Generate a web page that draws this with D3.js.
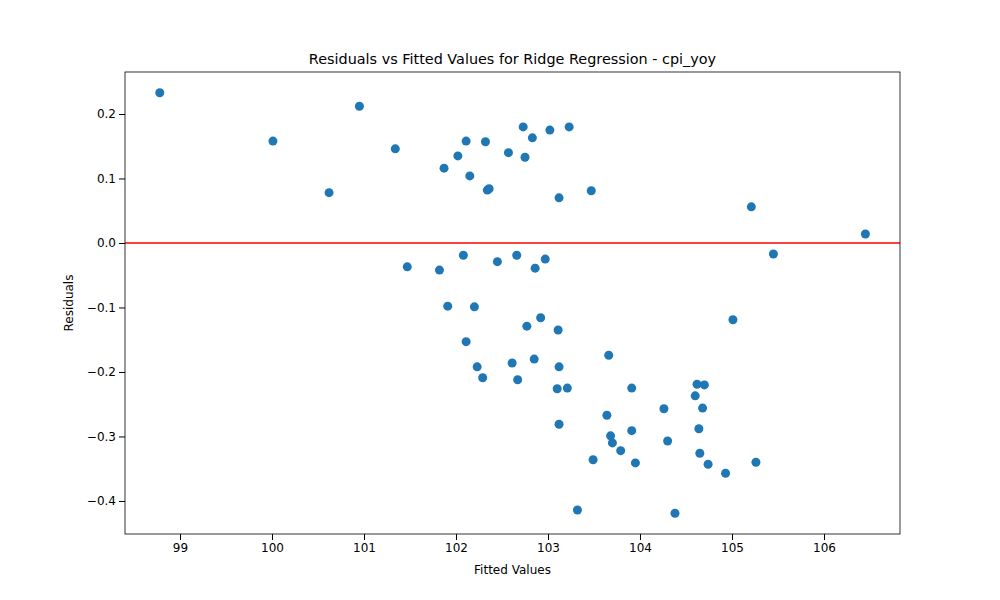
<!DOCTYPE html>
<html>
<head>
<meta charset="utf-8">
<script src="https://cdn.jsdelivr.net/npm/d3@7"></script>
<style>
body { margin: 0; background: #fff; }
text { font-family: "DejaVu Sans", sans-serif; }
</style>
</head>
<body>
<svg id="chart" width="1000" height="600"></svg>
<script>
const fitted = [98.78, 100.01, 100.62, 100.95, 101.34, 101.47, 101.82, 101.87, 101.91, 102.02,
  102.08, 102.11, 102.11, 102.15, 102.20, 102.23, 102.29, 102.32, 102.34, 102.36,
  102.45, 102.57, 102.61, 102.66, 102.67, 102.73, 102.75, 102.77, 102.83, 102.85,
  102.86, 102.92, 102.97, 103.02, 103.10, 103.11, 103.12, 103.12, 103.12, 103.21,
  103.23, 103.32, 103.47, 103.49, 103.64, 103.66, 103.68, 103.70, 103.79, 103.91,
  103.91, 103.95, 104.26, 104.30, 104.38, 104.60, 104.62, 104.64, 104.65, 104.68,
  104.70, 104.74, 104.93, 105.01, 105.21, 105.26, 105.45, 106.45];
const residuals = [0.233, 0.158, 0.078, 0.212, 0.146, -0.037, -0.042, 0.116, -0.098, 0.135,
  -0.019, 0.158, -0.153, 0.104, -0.099, -0.192, -0.209, 0.157, 0.082, 0.084,
  -0.029, 0.140, -0.186, -0.019, -0.212, 0.180, 0.133, -0.129, 0.163, -0.180,
  -0.039, -0.116, -0.025, 0.175, -0.226, -0.135, 0.070, -0.192, -0.281, -0.225,
  0.180, -0.414, 0.081, -0.336, -0.267, -0.174, -0.299, -0.310, -0.322, -0.225,
  -0.291, -0.341, -0.257, -0.307, -0.419, -0.237, -0.219, -0.288, -0.326, -0.256,
  -0.220, -0.343, -0.357, -0.119, 0.056, -0.340, -0.017, 0.014];
const xTicks = [99, 100, 101, 102, 103, 104, 105, 106];
const yTicks = [0.2, 0.1, 0.0, -0.1, -0.2, -0.3, -0.4];

const svg = d3.select("#chart");
const mLeft = 125, mRight = 900, mTop = 72, mBottom = 534;

const x = d3.scaleLinear().domain([98.402, 106.826]).range([mLeft, mRight]);
const y = d3.scaleLinear().domain([-0.4512, 0.2651]).range([mBottom, mTop]);

svg.append("g")
	.attr("transform", `translate(0,${mBottom})`)
	.call(d3.axisBottom(x).tickValues(xTicks).tickFormat(d3.format("d")).tickSizeOuter(0))
	.call(g => g.select(".domain").remove())
	.selectAll("text").attr("font-size", 12).attr("font-family", "DejaVu Sans");

svg.append("g")
	.attr("transform", `translate(${mLeft},0)`)
	.call(d3.axisLeft(y).tickValues(yTicks).tickFormat(d3.format(".1f")).tickSizeOuter(0))
	.call(g => g.select(".domain").remove())
	.selectAll("text").attr("font-size", 12).attr("font-family", "DejaVu Sans")
	.text(d => d3.format(".1f")(d).replace("-", "\u2212"));

svg.selectAll("circle")
	.data(fitted.map((f, i) => [f, residuals[i]]))
	.join("circle")
	.attr("cx", d => x(d[0]))
	.attr("cy", d => y(d[1]))
	.attr("r", 4.5)
	.attr("fill", "#1f77b4");

svg.append("line")
	.attr("x1", mLeft).attr("x2", mRight)
	.attr("y1", y(0)).attr("y2", y(0))
	.attr("stroke", "red").attr("stroke-width", 1.5);

svg.append("rect")
	.attr("x", mLeft).attr("y", mTop)
	.attr("width", mRight - mLeft).attr("height", mBottom - mTop)
	.attr("fill", "none").attr("stroke", "#000").attr("stroke-width", 0.8);

svg.append("text")
	.attr("x", (mLeft + mRight) / 2).attr("y", 64)
	.attr("text-anchor", "middle").attr("font-size", 14.4)
	.text("Residuals vs Fitted Values for Ridge Regression - cpi_yoy");

svg.append("text")
	.attr("x", (mLeft + mRight) / 2).attr("y", 574)
	.attr("text-anchor", "middle").attr("font-size", 12)
	.text("Fitted Values");

svg.append("text")
	.attr("transform", `translate(73,${(mTop + mBottom) / 2}) rotate(-90)`)
	.attr("text-anchor", "middle").attr("font-size", 12)
	.text("Residuals");
</script>
</body>
</html>
